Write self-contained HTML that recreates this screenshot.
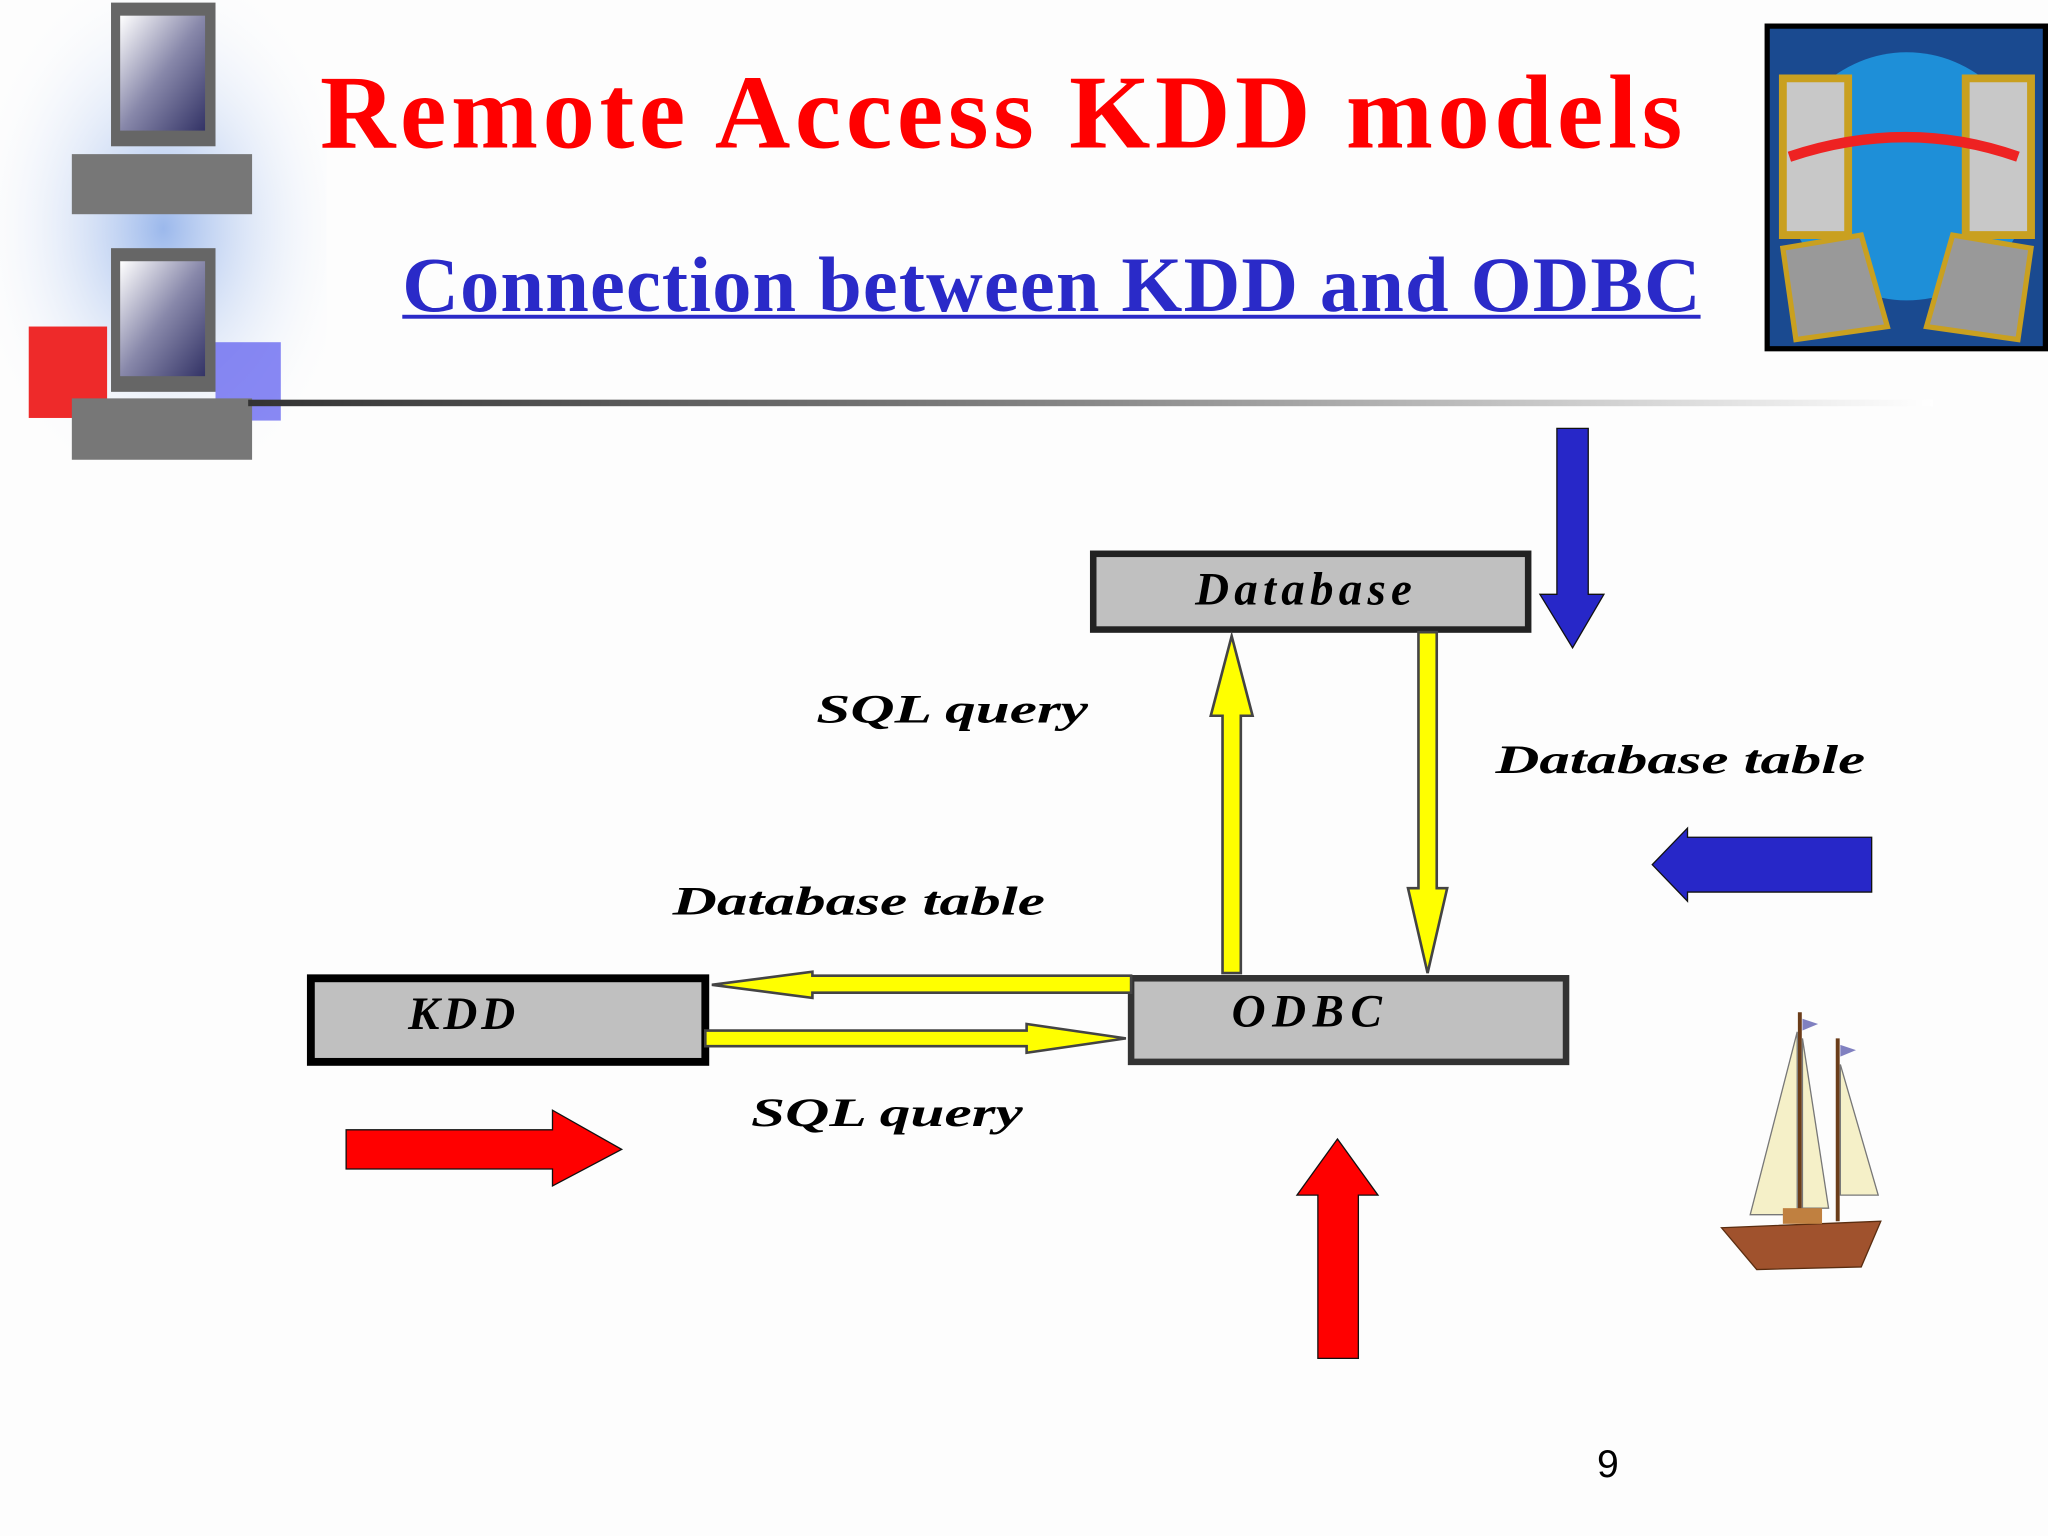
<!DOCTYPE html>
<html><head><meta charset="utf-8"><style>
html,body{margin:0;padding:0;background:#fff;}
svg{display:block;}
</style></head><body>
<svg width="2048" height="1536" viewBox="0 0 1568 1176" xmlns="http://www.w3.org/2000/svg">
<defs>
<linearGradient id="ln" x1="0" x2="1"><stop offset="0" stop-color="#333"/><stop offset="0.5" stop-color="#888"/><stop offset="1" stop-color="#fff"/></linearGradient>
<linearGradient id="scr" x1="0" y1="0" x2="1" y2="1"><stop offset="0" stop-color="#fff"/><stop offset="0.5" stop-color="#8888aa"/><stop offset="1" stop-color="#333366"/></linearGradient>
<radialGradient id="spk" cx="0.5" cy="0.5" r="0.6"><stop offset="0" stop-color="#5a8ae0"/><stop offset="1" stop-color="#fff" stop-opacity="0"/></radialGradient>
</defs>
<rect width="1568" height="1176" fill="#fdfdfd"/>
<rect x="0" y="0" width="250" height="350" fill="url(#spk)" opacity="0.6"/>
<rect x="22" y="250" width="60" height="70" fill="#ee2a2a"/>
<rect x="165" y="262" width="50" height="60" fill="#6a6af0" opacity="0.8"/>
<rect x="85" y="2" width="80" height="110" fill="#666"/>
<rect x="92" y="12" width="65" height="88" fill="url(#scr)"/>
<rect x="55" y="118" width="138" height="46" fill="#777"/>
<rect x="85" y="190" width="80" height="110" fill="#666"/>
<rect x="92" y="200" width="65" height="88" fill="url(#scr)"/>
<rect x="55" y="305" width="138" height="47" fill="#777"/>
<text x="245" y="113" font-family="Liberation Serif, serif" font-weight="bold" font-size="80" fill="#f00" textLength="1043">Remote Access KDD models</text>
<text x="308" y="238" font-family="Liberation Serif, serif" font-weight="bold" font-size="60" fill="#2a2ac8" textLength="994">Connection between KDD  and ODBC</text>
<rect x="308" y="241" width="994" height="3" fill="#2a2ac8"/>
<rect x="1353" y="20" width="213" height="247" fill="#1a4a90" stroke="#000" stroke-width="4"/>
<circle cx="1460" cy="135" r="95" fill="#1e8fd8"/>
<path d="M1365 60 h50 v120 h-50z M1505 60 h50 v120 h-50z" fill="#c8c8c8" stroke="#c9a020" stroke-width="6"/>
<path d="M1365 190 l60 -10 l20 70 l-70 10z M1555 190 l-60 -10 l-20 70 l70 10z" fill="#999" stroke="#c9a020" stroke-width="4"/>
<path d="M1370 120 q90 -30 175 0" stroke="#e22" stroke-width="8" fill="none"/>
<rect x="190" y="306" width="1290" height="5" fill="url(#ln)"/>
<rect x="837" y="424" width="333" height="58" fill="#c0c0c0" stroke="#222" stroke-width="5"/>
<text x="1000" y="463" text-anchor="middle" font-family="Liberation Serif, serif" font-style="italic" font-weight="bold" font-size="36" letter-spacing="4">Database</text>
<rect x="238" y="749" width="302" height="64" fill="#c0c0c0" stroke="#000" stroke-width="6"/>
<text x="355" y="788" text-anchor="middle" font-family="Liberation Serif, serif" font-style="italic" font-weight="bold" font-size="36" letter-spacing="3">KDD</text>
<rect x="866" y="749" width="333" height="64" fill="#c0c0c0" stroke="#333" stroke-width="5"/>
<text x="1003" y="786" text-anchor="middle" font-family="Liberation Serif, serif" font-style="italic" font-weight="bold" font-size="36" letter-spacing="5">ODBC</text>
<g fill="#ffff00" stroke="#444" stroke-width="2">
<path d="M936 745 V548 H927 L943 487 L959 548 H950 V745 Z"/>
<path d="M1086 484 V680 H1078 L1093 745 L1108 680 H1100 V484 Z"/>
<path d="M866 747 H622 V744 L545 754 L622 764 V760 H866 Z"/>
<path d="M540 789 H786 V784 L862 795 L786 806 V801 H540 Z"/>
</g>
<g font-family="Liberation Serif, serif" font-style="italic" font-weight="bold" font-size="31">
<text x="625" y="553" textLength="208" lengthAdjust="spacingAndGlyphs">SQL query</text>
<text x="1145" y="592" textLength="283" lengthAdjust="spacingAndGlyphs">Database table</text>
<text x="515" y="700" textLength="285" lengthAdjust="spacingAndGlyphs">Database table</text>
<text x="575" y="862" textLength="208" lengthAdjust="spacingAndGlyphs">SQL query</text>
</g>
<g fill="#2727c8" stroke="#111" stroke-width="1">
<path d="M1192 328 H1216 V455 H1228 L1204 496 L1179 455 H1192 Z"/>
<path d="M1433 641 V683 H1292 V690 L1265 662 L1292 634 V641 Z"/>
</g>
<g fill="#f00" stroke="#111" stroke-width="1">
<path d="M265 865 H423 V850 L476 880 L423 908 V895 H265 Z"/>
<path d="M1009 1040 V915 H993 L1024 872 L1055 915 H1040 V1040 Z"/>
</g>
<text x="1231" y="1131" text-anchor="middle" font-family="Liberation Sans, sans-serif" font-size="30">9</text>
<g>
<line x1="1378" y1="775" x2="1378" y2="935" stroke="#6b3d1a" stroke-width="3"/>
<line x1="1407" y1="795" x2="1407" y2="935" stroke="#6b3d1a" stroke-width="3"/>
<path d="M1376 790 L1340 930 L1376 930 Z" fill="#f5f0c8" stroke="#777"/>
<path d="M1380 795 L1400 925 L1380 925 Z" fill="#f5f0c8" stroke="#777"/>
<path d="M1409 815 L1438 915 L1409 915 Z" fill="#f5f0c8" stroke="#777"/>
<path d="M1380 780 l12 4 l-12 5z M1409 800 l12 4 l-12 5z" fill="#8080c0"/>
<path d="M1318 940 L1440 935 L1425 970 L1345 972 Z" fill="#a0522d" stroke="#5a2d10"/>
<rect x="1365" y="925" width="30" height="12" fill="#c08040"/>
</g>
</svg>
</body></html>
